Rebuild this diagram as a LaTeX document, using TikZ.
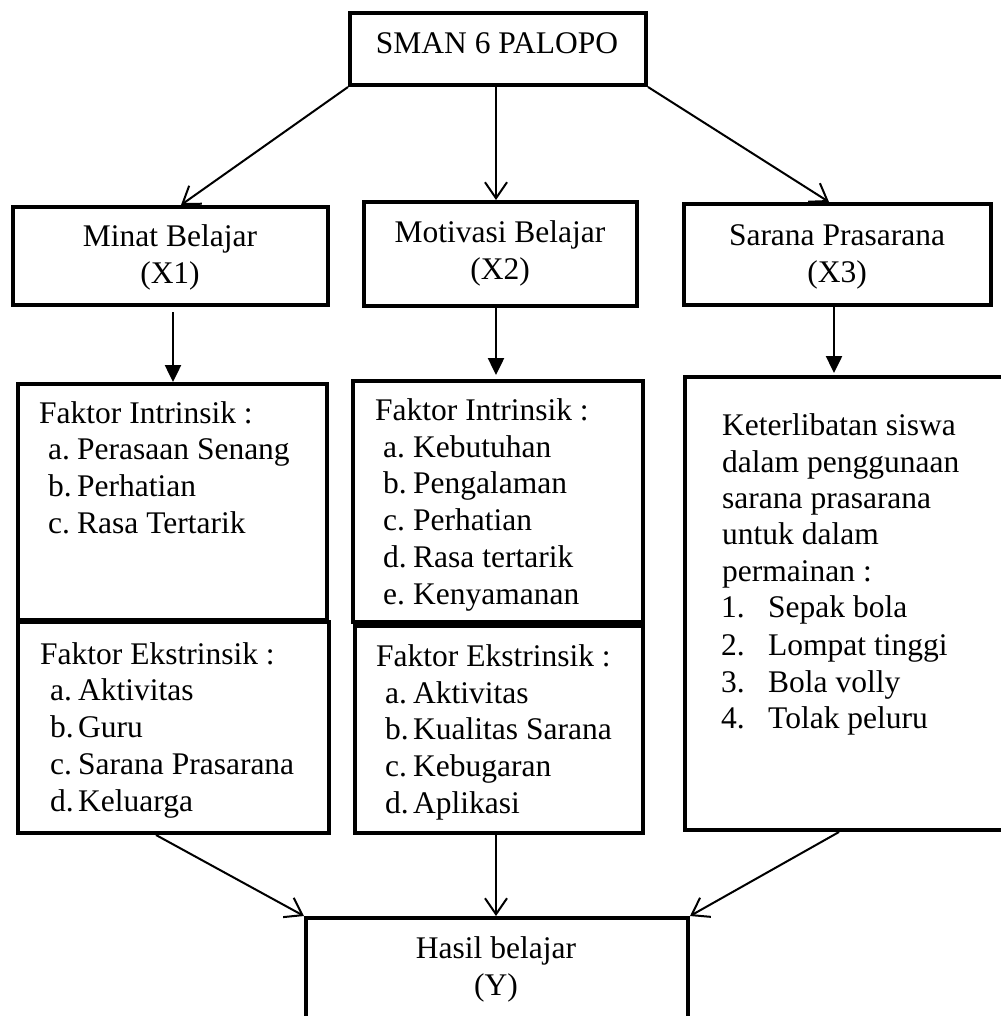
\documentclass[tikz,border=0pt]{standalone}
\usepackage{fontspec}
\setmainfont{Liberation Serif}
\usetikzlibrary{arrows.meta,calc}
\begin{document}
\begin{tikzpicture}[x=1pt,y=-1pt,
  box/.style={draw, line width=4pt, rectangle, inner sep=0pt},
  txt/.style={inner sep=0pt, font=\fontsize{31.5}{36.7}\selectfont},
  lt/.style={txt, anchor=base west},
  ct/.style={txt, anchor=base},
  arr/.style={line width=2pt, -{Straight Barb[length=16pt,width=22pt,line width=2pt]}},
  farr/.style={line width=2.5pt, -{Triangle[length=17pt,width=16pt]}}]
\useasboundingbox (0,0) rectangle (1000,1016);
\fill[white] (0,0) rectangle (1000,1016);

% boxes
\node[box, minimum width=296pt, minimum height=72pt] (top) at (498,49) {};
\node[box, minimum width=315pt, minimum height=98pt] (minat) at (170.5,256) {};
\node[box, minimum width=273pt, minimum height=104pt] (motiv) at (500.5,254) {};
\node[box, minimum width=307pt, minimum height=101pt] (sarana) at (837.5,254.5) {};
\node[box, minimum width=309pt, minimum height=236pt] (intr1) at (172.5,502) {};
\node[box, minimum width=311pt, minimum height=211pt] (ekst1) at (173.5,727.5) {};
\node[box, minimum width=290pt, minimum height=241pt] (intr2) at (498,501.5) {};
\node[box, minimum width=288pt, minimum height=207pt] (ekst2) at (499,729.5) {};
\node[box, minimum width=325pt, minimum height=453pt] (ket) at (847.5,603.5) {};
\node[box, minimum width=382pt, minimum height=112pt] (hasil) at (497,974) {};

% centred texts
\node[ct] (ttop) at (497,54) {SMAN 6 PALOPO};
\node[ct] (tmin1) at (170,246) {Minat Belajar};
\node[ct] (tmin2) at (170,283) {(X1)};
\node[ct] (tmot1) at (500,242) {Motivasi Belajar};
\node[ct] (tmot2) at (500,279) {(X2)};
\node[ct] (tsar1) at (837,245) {Sarana Prasarana};
\node[ct] (tsar2) at (837,282) {(X3)};
\node[ct] (thas1) at (496,958) {Hasil belajar};
\node[ct] (thas2) at (496,995) {(Y)};

% intrinsik 1
\node[lt] (i1h) at (39,423) {Faktor Intrinsik :};
\node[lt] (i1a) at (48,459) {\makebox[29pt][l]{a.}Perasaan Senang};
\node[lt] (i1b) at (48,496) {\makebox[29pt][l]{b.}Perhatian};
\node[lt] (i1c) at (48,533) {\makebox[29pt][l]{c.}Rasa Tertarik};

% intrinsik 2
\node[lt] (i2h) at (375,420) {Faktor Intrinsik :};
\node[lt] (i2a) at (383,457) {\makebox[30pt][l]{a.}Kebutuhan};
\node[lt] (i2b) at (383,493) {\makebox[30pt][l]{b.}Pengalaman};
\node[lt] (i2c) at (383,530) {\makebox[30pt][l]{c.}Perhatian};
\node[lt] (i2d) at (383,567) {\makebox[30pt][l]{d.}Rasa tertarik};
\node[lt] (i2e) at (383,604) {\makebox[30pt][l]{e.}Kenyamanan};

% ekstrinsik 1
\node[lt] (e1h) at (40,664) {Faktor Ekstrinsik :};
\node[lt] (e1a) at (50,700) {\makebox[28pt][l]{a.}Aktivitas};
\node[lt] (e1b) at (50,737) {\makebox[28pt][l]{b.}Guru};
\node[lt] (e1c) at (50,774) {\makebox[28pt][l]{c.}Sarana Prasarana};
\node[lt] (e1d) at (50,811) {\makebox[28pt][l]{d.}Keluarga};

% ekstrinsik 2
\node[lt] (e2h) at (376,666) {Faktor Ekstrinsik :};
\node[lt] (e2a) at (385,703) {\makebox[28pt][l]{a.}Aktivitas};
\node[lt] (e2b) at (385,739) {\makebox[28pt][l]{b.}Kualitas Sarana};
\node[lt] (e2c) at (385,776) {\makebox[28pt][l]{c.}Kebugaran};
\node[lt] (e2d) at (385,813) {\makebox[28pt][l]{d.}Aplikasi};

% keterlibatan
\node[lt] (k1) at (722,435) {Keterlibatan siswa};
\node[lt] (k2) at (722,472) {dalam penggunaan};
\node[lt] (k3) at (722,508) {sarana prasarana};
\node[lt] (k4) at (722,544) {untuk dalam};
\node[lt] (k5) at (722,581) {permainan :};
\node[lt] (k6) at (721,617) {\makebox[47pt][l]{1.}Sepak bola};
\node[lt] (k7) at (721,655) {\makebox[47pt][l]{2.}Lompat tinggi};
\node[lt] (k8) at (721,692) {\makebox[47pt][l]{3.}Bola volly};
\node[lt] (k9) at (721,728) {\makebox[47pt][l]{4.}Tolak peluru};

% connectors from top
\draw[arr] (top.south west) -- ($(minat.north)+(10.5,0)$);
\draw[arr] ($(top.south)+(-2,0)$) -- ($(motiv.north)+(-4.5,0)$);
\draw[arr] (top.south east) -- ($(sarana.north)+(-8.5,0)$);

% vertical filled arrows
\draw[farr] ($(minat.south)+(2.5,5)$) -- ($(intr1.north)+(0.5,0)$);
\draw[farr] ($(motiv.south)+(-4.5,0)$) -- ($(intr2.north)+(-2,-4)$);
\draw[farr] ($(sarana.south)+(-3.5,0)$) -- ($(ket.north)+(-13.5,-2)$);

% connectors to bottom
\draw[arr] ($(ekst1.south)+(-17.5,0)$) -- (hasil.north west);
\draw[arr] ($(ekst2.south)+(-3,0)$) -- ($(hasil.north)+(-1,0)$);
\draw[arr] ($(ket.south)+(-8.5,0)$) -- (hasil.north east);
\end{tikzpicture}
\end{document}
